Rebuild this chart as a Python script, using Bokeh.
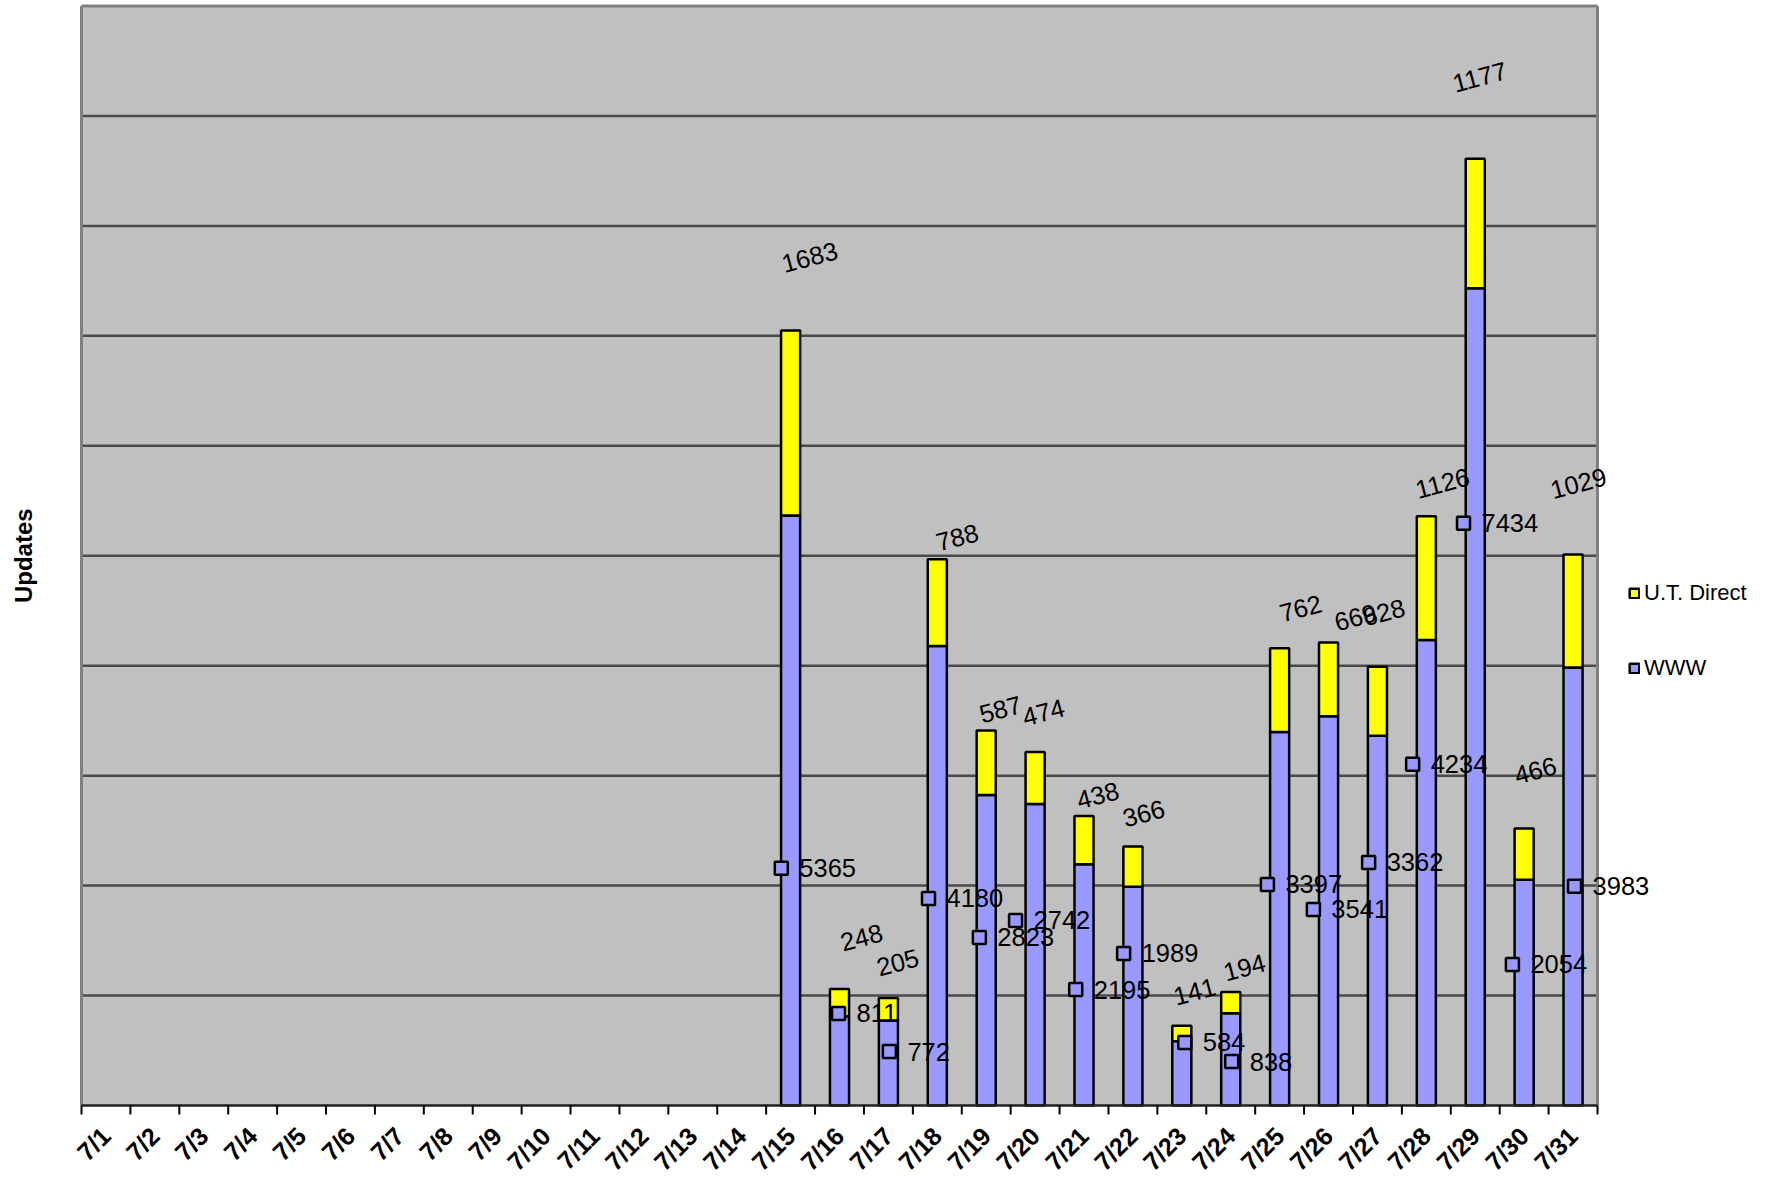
import math
from bokeh.plotting import figure
from bokeh.models import Range1d, Legend, LegendItem, ColumnDataSource
from bokeh.core.properties import value
from bokeh.embed import file_html
from bokeh.resources import INLINE

# ---- data ----
dates = ["7/1", "7/2", "7/3", "7/4", "7/5", "7/6", "7/7", "7/8", "7/9", "7/10",
         "7/11", "7/12", "7/13", "7/14", "7/15", "7/16", "7/17", "7/18", "7/19",
         "7/20", "7/21", "7/22", "7/23", "7/24", "7/25", "7/26", "7/27", "7/28",
         "7/29", "7/30", "7/31"]
bar_dates = ["7/15", "7/16", "7/17", "7/18", "7/19", "7/20", "7/21", "7/22", "7/23",
             "7/24", "7/25", "7/26", "7/27", "7/28", "7/29", "7/30", "7/31"]
www = [5365, 811, 772, 4180, 2823, 2742, 2195, 1989, 584, 838, 3397, 3541, 3362,
       4234, 7434, 2054, 3983]
ut_direct = [1683, 248, 205, 788, 587, 474, 438, 366, 141, 194, 762, 669, 628,
             1126, 1177, 466, 1029]
y_grid_values = [1000, 2000, 3000, 4000, 5000, 6000, 7000, 8000, 9000]
y_max = 10000

# label placement (manually dragged labels in the original chart)
www_label_y = [2157, 837, 491, 1883, 1529, 1683, 1055, 1383, 573, 400, 2011, 1783,
               2211, 3103, 5296, 1283, 1993]
www_label_dx = [-0.19, -0.02, 0.02, -0.18, -0.14, -0.40, -0.17, -0.19, 0.06, 0.02,
                -0.25, -0.31, -0.18, -0.28, -0.24, -0.24, 0.03]
ut_label_y = [7716, 1529, 1301, 5168, 3603, 3576, 2821, 2657, 1037, 1256, 4522,
              4440, 4486, 5660, 9354, 3048, 5660]
ut_label_dx = [0.39, 0.45, 0.19, 0.41, 0.29, 0.17, 0.28, 0.22, 0.26, 0.28, 0.43,
               0.55, 0.13, 0.33, 0.09, 0.23, 0.11]

FONT = "Liberation Sans"
W, H = 1769, 1177
# pixel layout of the plot area inside the figure
PX_LEFT, PX_RIGHT, PX_TOP, PX_BASE = 81, 1597, 5.5, 1105
n = len(dates)
ux_per_px = n / (PX_RIGHT - PX_LEFT)
uy_per_px = y_max / (PX_BASE - PX_TOP)
x_range = Range1d(-PX_LEFT * ux_per_px, (W - PX_LEFT) * ux_per_px)
y_range = Range1d(-(H - PX_BASE) * uy_per_px, y_max + PX_TOP * uy_per_px)

xs = [dates.index(d) + 0.5 for d in bar_dates]
totals = [w + u for w, u in zip(www, ut_direct)]
src = ColumnDataSource(dict(x=xs, www=www, total=totals))

p = figure(width=W, height=H, x_range=x_range, y_range=y_range,
           output_backend="svg", toolbar_location=None, title=None,
           min_border=0, background_fill_color="white", border_fill_color="white",
           outline_line_color=None)
p.axis.visible = False
p.grid.visible = False

# plot area
p.quad(left=[0], right=[n], bottom=[0], top=[y_max], fill_color="#C0C0C0",
       line_color=None)
p.segment(x0=[0] * len(y_grid_values), x1=[n] * len(y_grid_values),
          y0=y_grid_values, y1=y_grid_values, line_color="#4a4a4a", line_width=2.5)
# plot-area border
p.segment(x0=[0, 0, n], x1=[0, n, n], y0=[0, y_max, 0], y1=[y_max, y_max, y_max],
          line_color="#808080", line_width=3)

# bars
r_www = p.vbar(x="x", width=0.39, bottom=0, top="www", source=src,
               fill_color="#9999FF", line_color="black", line_width=2.5)
r_ut = p.vbar(x="x", width=0.39, bottom="www", top="total", source=src,
              fill_color="#FFFF00", line_color="black", line_width=2.5)

# category axis: baseline, ticks at category boundaries, rotated labels
p.segment(x0=[0], x1=[n], y0=[0], y1=[0], line_color="#202020", line_width=2.5)
p.ray(x=list(range(n + 1)), y=[0] * (n + 1), length=9, length_units="screen",
      angle=-math.pi / 2, line_color="black", line_width=2)
p.text(x=[i + 0.5 for i in range(n)], y=[0] * n, text=dates, angle=math.pi / 4,
       x_offset=0, y_offset=26, text_align="right", text_baseline="middle",
       text_font=value(FONT), text_font_style="bold", text_font_size="25px",
       text_color="black")

# y axis title
p.text(x=[-PX_LEFT * ux_per_px + 23 * ux_per_px], y=[y_max / 2], text=["Updates"],
       angle=math.pi / 2, text_align="center", text_baseline="middle",
       text_font=value(FONT), text_font_style="bold", text_font_size="24px",
       text_color="black")

# WWW labels with legend-key squares
wx = [x + dx for x, dx in zip(xs, www_label_dx)]
p.scatter(x=wx, y=www_label_y, marker="square", size=13, fill_color="#9999FF",
          line_color="black", line_width=2.5)
p.text(x=wx, y=www_label_y, text=[str(v) for v in www], x_offset=18,
       text_align="left", text_baseline="middle", text_font=value(FONT),
       text_font_size="25.5px", text_color="black")

# U.T. Direct labels (slightly rotated)
ux = [x + dx for x, dx in zip(xs, ut_label_dx)]
p.text(x=ux, y=ut_label_y, text=[str(v) for v in ut_direct], angle=0.26,
       text_align="center", text_baseline="middle", text_font=value(FONT),
       text_font_size="25.5px", text_color="black")

legend = Legend(items=[LegendItem(label="U.T. Direct", renderers=[r_ut]),
                       LegendItem(label="WWW", renderers=[r_www])],
                location=(1628, 496), glyph_width=12, glyph_height=12,
                label_height=24, label_text_font=FONT, label_text_font_size="22px",
                label_text_color="black",
                label_standoff=4, spacing=49, padding=0, margin=0,
                border_line_color=None, background_fill_alpha=0)
p.add_layout(legend)

open("out.html", "w").write(file_html(p, INLINE))
